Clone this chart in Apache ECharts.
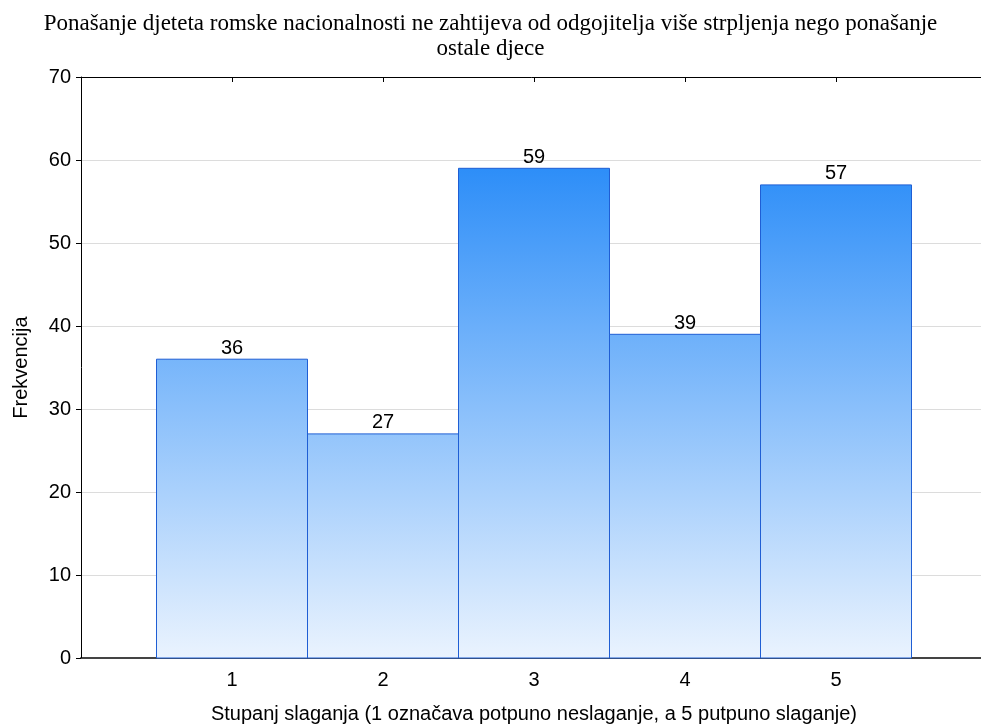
<!DOCTYPE html>
<html>
<head>
<meta charset="utf-8">
<script src="https://cdn.jsdelivr.net/npm/echarts@6/dist/echarts.min.js"></script>
<style>
  html, body { margin: 0; padding: 0; background: #fff; }
  #chart { width: 981px; height: 728px; }
</style>
</head>
<body>
<div id="chart"></div>
<script>
const categories = [1, 2, 3, 4, 5]
const frequencies = [36, 27, 59, 39, 57]
const yTicks = [0, 10, 20, 30, 40, 50, 60, 70]

const titleText = 'Ponašanje djeteta romske nacionalnosti ne zahtijeva od odgojitelja više strpljenja nego ponašanje\nostale djece'
const xName = 'Stupanj slaganja (1 označava potpuno neslaganje, a 5 putpuno slaganje)'
const yName = 'Frekvencija'

const chart = echarts.init(document.getElementById('chart'))
const sans = 'Liberation Sans, Arial, sans-serif'

const renderBar = (params, api) => {
  const x = api.value(0)
  const y = api.value(1)
  const topLeft = api.coord([x - 0.5, y])
  const bottomRight = api.coord([x + 0.5, 0])
  const plotTop = api.coord([0, yTicks[yTicks.length - 1]])[1]
  const plotBottom = api.coord([0, 0])[1]
  const fill = new echarts.graphic.LinearGradient(0, plotTop, 0, plotBottom, [
    { offset: 0, color: '#0a7bf7' },
    { offset: 1, color: '#eaf3fe' },
  ], true)
  return {
    type: 'group',
    children: [
      {
        type: 'rect',
        shape: {
          x: topLeft[0],
          y: topLeft[1],
          width: bottomRight[0] - topLeft[0],
          height: bottomRight[1] - topLeft[1],
        },
        style: { fill, stroke: '#1f5ed4', lineWidth: 1 },
      },
      {
        type: 'text',
        x: (topLeft[0] + bottomRight[0]) / 2,
        y: topLeft[1] - 1,
        style: {
          text: String(y),
          align: 'center',
          verticalAlign: 'bottom',
          font: '20px ' + sans,
          fill: '#000',
        },
      },
    ],
  }
}

chart.setOption({
  backgroundColor: '#fff',
  animation: false,
  title: {
    text: titleText,
    left: 'center',
    top: 6,
    textStyle: {
      fontFamily: 'Liberation Serif, Times New Roman, serif',
      fontSize: 23,
      fontWeight: 'normal',
      color: '#000',
      lineHeight: 25,
    },
  },
  grid: { left: 81, right: -6, top: 77, bottom: 70, outerBoundsMode: 'none', containLabel: false },
  xAxis: [
    {
      type: 'value',
      position: 'bottom',
      min: 0,
      max: 6,
      interval: 1,
      name: xName,
      nameLocation: 'middle',
      nameGap: 46,
      nameTextStyle: { fontFamily: sans, fontSize: 20, color: '#000' },
      axisLine: { show: true, lineStyle: { color: '#444', width: 2 } },
      axisTick: { show: true, inside: true, length: 5, lineStyle: { color: '#000' } },
      axisLabel: {
        fontFamily: sans,
        fontSize: 20,
        color: '#000',
        margin: 12,
        formatter: (v) => (categories.includes(v) ? String(v) : ''),
      },
      splitLine: { show: false },
    },
    {
      type: 'value',
      position: 'top',
      min: 0,
      max: 6,
      interval: 1,
      axisLine: { show: true, lineStyle: { color: '#000', width: 1 } },
      axisTick: { show: true, inside: true, length: 5, lineStyle: { color: '#000' } },
      axisLabel: { show: false },
      splitLine: { show: false },
    },
  ],
  yAxis: {
    type: 'value',
    min: yTicks[0],
    max: yTicks[yTicks.length - 1],
    interval: 10,
    name: yName,
    nameLocation: 'middle',
    nameGap: 50,
    nameRotate: 90,
    nameTextStyle: { fontFamily: sans, fontSize: 20, color: '#000' },
    axisLine: { show: true, lineStyle: { color: '#000', width: 1 } },
    axisTick: { show: true, inside: false, length: 5, lineStyle: { color: '#000' } },
    axisLabel: { fontFamily: sans, fontSize: 20, color: '#000', margin: 10 },
    splitLine: { show: true, lineStyle: { color: '#dcdcdc', width: 1 } },
  },
  series: [
    {
      type: 'custom',
      renderItem: renderBar,
      data: categories.map((c, i) => [c, frequencies[i]]),
      encode: { x: 0, y: 1 },
      z: 3,
    },
  ],
})
</script>
</body>
</html>
